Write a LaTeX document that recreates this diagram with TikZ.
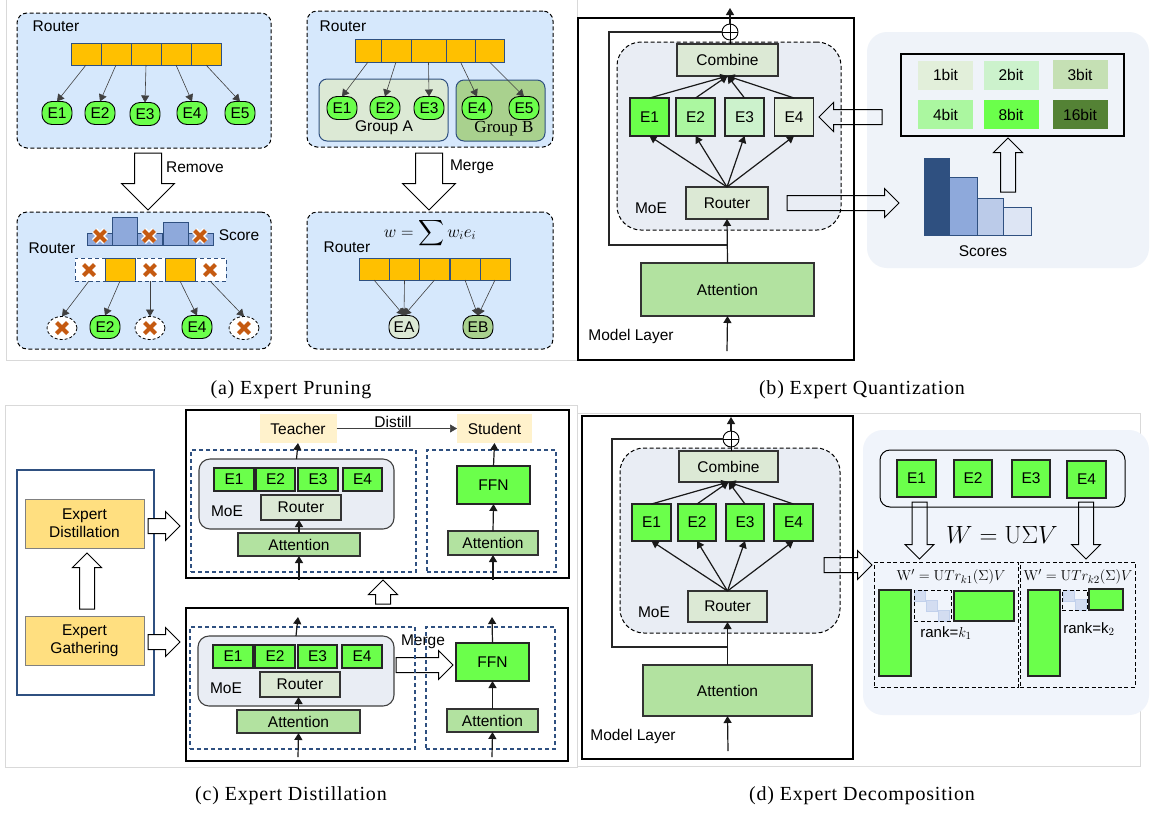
\documentclass[tikz,border=0pt]{standalone}
\usepackage{amsmath, amssymb}
\usepackage[no-math]{fontspec}
\setmainfont{Liberation Sans}
\newfontfamily\capfont[LetterSpace=4]{Liberation Serif}
\newfontfamily\groupfont{Liberation Serif}
\usetikzlibrary{arrows.meta,shapes.arrows,shapes.geometric}
\definecolor{panelblue}{HTML}{D6E8FC}
\definecolor{barblue}{HTML}{2F5080}
\definecolor{barorange}{HTML}{FFC000}
\definecolor{egreen}{HTML}{6BFF4B}
\definecolor{ltgreen}{HTML}{DCE9D5}
\definecolor{midgreen}{HTML}{A9D18E}
\definecolor{attgreen}{HTML}{B2E2A0}
\definecolor{moegray}{HTML}{E9EDF4}
\definecolor{softblue}{HTML}{EFF3F9}
\definecolor{softblueb}{HTML}{F0F4FB}
\definecolor{scorelo}{HTML}{8EA9DB}
\definecolor{crossor}{HTML}{C55A11}
\definecolor{bitone}{HTML}{E2EFDA}
\definecolor{bittwo}{HTML}{CCF2CC}
\definecolor{bitthree}{HTML}{C5E0B4}
\definecolor{bitfour}{HTML}{ABF7A0}
\definecolor{bitsixteen}{HTML}{548235}
\definecolor{diagfill}{HTML}{D3DDF1}
\definecolor{diagline}{HTML}{C2D1EC}
\newcommand{\xmark}[1]{%
	\draw[xhalo] (#1) ++(-5.5,-5.5) -- ++(11,11) (#1) ++(-5.5,5.5) -- ++(11,-11);
	\draw[xcross] (#1) ++(-5.5,-5.5) -- ++(11,11) (#1) ++(-5.5,5.5) -- ++(11,-11);}
\begin{document}
\begin{tikzpicture}[x=1pt,y=-1pt]
	\tikzstyle{every node}=[inner sep=0pt,outer sep=0pt,font=\fontsize{15.5}{18}\selectfont,align=center]
	\tikzstyle{frame}=[draw=black!15,line width=.8pt]
	\tikzstyle{panel}=[draw=black,fill=panelblue,dash pattern=on 4pt off 2.5pt,line width=1pt,rounded corners=10pt]
	\tikzstyle{bar}=[draw=barblue,fill=barorange,line width=.9pt,minimum height=22pt,minimum width=30pt]
	\tikzstyle{expert}=[draw=black,fill=egreen,line width=.9pt,rounded corners=10pt,minimum width=30pt,minimum height=23pt]
	\tikzstyle{gone}=[draw=black,fill=white,dash pattern=on 3pt off 2pt,line width=.8pt,ellipse,minimum width=30pt,minimum height=23pt]
	\tikzstyle{score}=[draw=barblue,fill=scorelo,line width=.9pt]
	\tikzstyle{xhalo}=[white,line width=6.8pt]
	\tikzstyle{xcross}=[crossor,line width=4.2pt]
	\tikzstyle{thinarrow}=[draw=black!75,line width=.6pt,-{Triangle[length=7pt,width=8pt]}]
	\tikzstyle{stdarrow}=[draw=black!90,line width=1.2pt,-{Triangle[length=7pt,width=8pt]}]
	\tikzstyle{skipline}=[draw=black!85,line width=1.2pt]
	\tikzstyle{fat}=[draw=black,fill=white,line width=1pt,single arrow,inner ysep=7pt,single arrow head extend=7pt,anchor=tip]
	\tikzstyle{fatbig}=[fat,inner ysep=13pt,single arrow head extend=13pt]
	\tikzstyle{layerbox}=[draw=black,line width=1.1pt]
	\tikzstyle{moebig}=[draw=black,fill=moegray,dash pattern=on 4pt off 2.5pt,line width=1pt,rounded corners=24pt]
	\tikzstyle{moesmall}=[draw=black!75,fill=moegray,line width=1.1pt,rounded corners=11pt]
	\tikzstyle{lgbox}=[draw=black!80,fill=ltgreen,line width=1.1pt]
	\tikzstyle{attbox}=[draw=black!80,fill=attgreen,line width=1.1pt]
	\tikzstyle{ebox}=[draw=black!85,fill=egreen,line width=1.1pt]
	\tikzstyle{sumnode}=[circle,draw=black,fill=white,line width=.9pt,minimum size=16pt,path picture={\draw[line width=.9pt] (path picture bounding box.north) -- (path picture bounding box.south) (path picture bounding box.west) -- (path picture bounding box.east);}]
	\tikzstyle{bluedash}=[draw=barblue,dash pattern=on 4pt off 3pt,line width=1.1pt]
	\tikzstyle{blackdash}=[draw=black,dash pattern=on 4pt off 2.5pt,line width=1pt]
	\tikzstyle{bitcell}=[minimum width=55pt,minimum height=29pt]
	\tikzstyle{diagcell}=[fill=diagfill,draw=diagline,line width=.5pt,minimum size=11pt]
	\tikzstyle{caption}=[font=\capfont\fontsize{20}{22}\selectfont]
	\useasboundingbox (0,0) rectangle (1150,812);
	\fill[white] (0,0) rectangle (1150,812);

	\draw[frame] (6,0) -- (6,360) -- (577,360) -- (577,0);
	\draw[frame] (5,405) rectangle (577,767);
	\draw[frame] (577,413) rectangle (1140,766);

	\node[panel,minimum width=254pt,minimum height=135pt](aBoxOne) at (144,80.5) {};
	\node (aRouterOne) at (56,26) {Router};
	\node[bar](aC1) at (86,54) {};
	\node[bar](aC2) at (116,54) {};
	\node[bar](aC3) at (146,54) {};
	\node[bar](aC4) at (176,54) {};
	\node[bar](aC5) at (206,54) {};
	\node[expert](aE1) at (57,113) {E1};
	\node[expert](aE2) at (100,113) {E2};
	\node[expert](aE3) at (145,114) {E3};
	\node[expert](aE4) at (192,113) {E4};
	\node[expert](aE5) at (240,113) {E5};
	\draw[thinarrow] (aC1.south) -- (aE1.north);
	\draw[thinarrow] (aC2.south) -- (aE2.north);
	\draw[thinarrow] (aC3.south) -- (aE3.north);
	\draw[thinarrow] (aC4.south) -- (aE4.north);
	\draw[thinarrow] (aC5.south) -- (aE5.north);

	\node[panel,minimum width=254pt,minimum height=137pt](aBoxTwo) at (144,280.5) {};
	\node[fatbig,rotate=-90,minimum height=57pt](aRemove) at (148,210) {};
	\node (aRemoveText) at (195,167) {Remove};
	\node[score,minimum width=25pt,minimum height=12pt](aS1) at (99.5,239) {};
	\node[score,minimum width=25pt,minimum height=28pt](aS2) at (124.5,231) {};
	\node[score,minimum width=25pt,minimum height=12pt](aS3) at (150,239) {};
	\node[score,minimum width=25pt,minimum height=23pt](aS4) at (175.5,233.5) {};
	\node[score,minimum width=25pt,minimum height=12pt](aS5) at (200.5,239) {};
	\xmark{100,236}
	\xmark{149,236}
	\xmark{200,236}
	\node (aScoreText) at (239,235) {Score};
	\node (aRouterTwo) at (52,248) {Router};
	\node[draw=barblue,fill=white,dash pattern=on 4pt off 3pt,line width=.9pt,minimum width=151pt,minimum height=23pt](aRow) at (150.5,269.5) {};
	\node[bar,minimum height=23pt](aK2) at (120,269.5) {};
	\node[bar,minimum height=23pt](aK4) at (180,269.5) {};
	\coordinate (aK1) at (89,281);
	\coordinate (aK3) at (150,281);
	\coordinate (aK5) at (210,281);
	\xmark{89,270}
	\xmark{150,270}
	\xmark{210,270}
	\node[gone](aG1) at (62,328) {};
	\node[expert](aG2) at (105,327) {E2};
	\node[gone](aG3) at (150,328) {};
	\node[expert](aG4) at (197,327) {E4};
	\node[gone](aG5) at (244,328) {};
	\xmark{62,328}
	\xmark{150,328}
	\xmark{244,328}
	\draw[thinarrow] (aK1) -- (aG1.north);
	\draw[thinarrow] (aK2.south) -- (aG2.north);
	\draw[thinarrow] (aK3) -- (aG3.north);
	\draw[thinarrow] (aK4.south) -- (aG4.north);
	\draw[thinarrow] (aK5) -- (aG5.north);

	\node[panel,minimum width=246pt,minimum height=136pt](mBoxOne) at (430,79) {};
	\node (mRouterOne) at (343,26) {Router};
	\node[draw=barblue,fill=ltgreen,line width=1pt,rounded corners=8pt,minimum width=129pt,minimum height=62pt](mGroupA) at (383.5,110) {};
	\node[draw=barblue,fill=midgreen,line width=1pt,rounded corners=8pt,minimum width=89pt,minimum height=61pt](mGroupB) at (500.5,110.5) {};
	\node (mGroupAText) at (384,128) {Group A};
	\node[font=\groupfont\fontsize{17}{20}\selectfont] (mGroupBText) at (504,129) {Group B};
	\node[bar,minimum width=26pt,minimum height=23pt](mC1) at (368,50.5) {};
	\node[bar,minimum width=30pt,minimum height=23pt](mC2) at (396,50.5) {};
	\node[bar,minimum width=35pt,minimum height=23pt](mC3) at (428.5,50.5) {};
	\node[bar,minimum width=29pt,minimum height=23pt](mC4) at (460.5,50.5) {};
	\node[bar,minimum width=29pt,minimum height=23pt](mC5) at (489.5,50.5) {};
	\node[expert](mE1) at (342,108) {E1};
	\node[expert](mE2) at (385,108) {E2};
	\node[expert](mE3) at (429,108) {E3};
	\node[expert](mE4) at (477,108) {E4};
	\node[expert](mE5) at (524,108) {E5};
	\draw[thinarrow] (mC1.south) -- (mE1.north);
	\draw[thinarrow] (mC2.south) -- (mE2.north);
	\draw[thinarrow] (mC3.south) -- (mE3.north);
	\draw[thinarrow] (mC4.south) -- (mE4.north);
	\draw[thinarrow] (mC5.south) -- (mE5.north);

	\node[panel,minimum width=246pt,minimum height=137pt](mBoxTwo) at (430,280.5) {};
	\node[fatbig,rotate=-90,minimum height=57pt](mMerge) at (429,210) {};
	\node (mMergeText) at (472,167) {Merge};
	\node[font=\fontsize{18}{20}\selectfont](mEquation) at (430,233) {$w=\displaystyle\sum w_ie_i$};
	\node (mRouterTwo) at (347,247) {Router};
	\node[bar](mD1) at (374,269) {};
	\node[bar](mD2) at (404.5,269) {};
	\node[bar](mD3) at (434.5,269) {};
	\node[bar](mD4) at (465,269) {};
	\node[bar](mD5) at (495,269) {};
	\node[expert,fill=ltgreen](mEA) at (404,327) {EA};
	\node[expert,fill=midgreen](mEB) at (478,327) {EB};
	\draw[thinarrow] (mD1.south) -- (mEA.north);
	\draw[thinarrow] (mD2.south) -- (mEA.north);
	\draw[thinarrow] (mD3.south) -- (mEA.north);
	\draw[thinarrow] (mD4.south) -- (mEB.north);
	\draw[thinarrow] (mD5.south) -- (mEB.north);

	\node[caption](aCaption) at (291,390) {(a) Expert Pruning};

	\node[layerbox,minimum width=276pt,minimum height=342pt](bLayer) at (716,189) {};
	\coordinate (bOut) at (730,8);
	\coordinate (bIn) at (727,351);
	\coordinate (bSplit) at (727,245);
	\coordinate (bCornerA) at (609,245);
	\coordinate (bCornerB) at (609,32);
	\node[moebig,minimum width=224pt,minimum height=188pt](bMoE) at (729,136) {};
	\node[lgbox,minimum width=101pt,minimum height=32pt](bCombine) at (727.5,60) {Combine};
	\node[sumnode](bSum) at (730,32) {};
	\draw[skipline] (bSplit) -- (bCornerA) -- (bCornerB) -- (bSum.west);
	\draw[stdarrow] (bSum.north) -- (bOut);
	\draw[line width=.8pt] (bCombine.north -| bSum) -- (bSum.south);
	\node[ebox,minimum width=39pt,minimum height=38pt](bE1) at (649.5,117) {E1};
	\node[ebox,fill=bitfour,minimum width=39pt,minimum height=38pt](bE2) at (695.5,117) {E2};
	\node[ebox,fill=bittwo,minimum width=39pt,minimum height=38pt](bE3) at (744.5,117) {E3};
	\node[ebox,fill=bitone,minimum width=39pt,minimum height=38pt](bE4) at (794,117) {E4};
	\node[lgbox,minimum width=82pt,minimum height=32pt](bRouter) at (727,203) {Router};
	\node[attbox,minimum width=173pt,minimum height=53pt](bAttention) at (727.5,289.5) {Attention};
	\draw[stdarrow] (bE1.north) -- (bCombine.south);
	\draw[stdarrow] (bE2.north) -- (bCombine.south);
	\draw[stdarrow] (bE3.north) -- (bCombine.south);
	\draw[stdarrow] (bE4.north) -- (bCombine.south);
	\draw[stdarrow] (bRouter.north) -- (bE1.south);
	\draw[stdarrow] (bRouter.north) -- (bE2.south);
	\draw[stdarrow] (bRouter.north) -- (bE3.south);
	\draw[stdarrow] (bRouter.north) -- (bE4.south);
	\draw[stdarrow] (bAttention.north) -- (bRouter.south);
	\draw[stdarrow] (bIn) -- (bAttention.south);
	\node (bMoEText) at (651,208) {MoE};
	\node (bLayerText) at (631,336) {Model Layer};

	\node[fill=softblue,rounded corners=20pt,minimum width=282pt,minimum height=236pt](bSide) at (1008,150) {};
	\node[layerbox,minimum width=223pt,minimum height=82pt](bBits) at (1012.5,95) {};
	\node[bitcell,fill=bitone](bBit1) at (945.5,75) {1bit};
	\node[bitcell,fill=bittwo](bBit2) at (1011,75) {2bit};
	\node[bitcell,fill=bitthree](bBit3) at (1080,74.5) {3bit};
	\node[bitcell,fill=bitfour](bBit4) at (945.5,114.5) {4bit};
	\node[bitcell,fill=egreen](bBit8) at (1011,114.5) {8bit};
	\node[bitcell,fill=bitsixteen](bBit16) at (1080,114.5) {16bit};
	\node[score,fill=barblue,minimum width=25pt,minimum height=77pt](bScore1) at (936.5,196.5) {};
	\node[score,minimum width=28pt,minimum height=58pt](bScore2) at (963,206) {};
	\node[score,fill=scorelo!60,minimum width=26pt,minimum height=37pt](bScore3) at (990,216.5) {};
	\node[score,fill=scorelo!30,minimum width=28pt,minimum height=28pt](bScore4) at (1017,221) {};
	\node (bScoreText) at (983,251) {Scores};
	\node[fat,fill=none,rotate=180,minimum height=63pt](bQuant) at (819,117) {};
	\node[fat,fill=none,minimum height=112pt](bSend) at (899,203) {};
	\node[fat,fill=none,rotate=90,minimum height=54pt](bUp) at (1008,138) {};

	\node[caption](bCaption) at (862,390) {(b) Expert Quantization};

	\node[draw=barblue,fill=white,line width=1.2pt,minimum width=137pt,minimum height=225pt](cStages) at (85.5,582.5) {};
	\node[draw=black!50,fill=barorange!50!white,line width=1pt,minimum width=119pt,minimum height=49pt](cDistill) at (84.5,523.5) {Expert\\Distillation};
	\node[draw=black!50,fill=barorange!50!white,line width=1pt,minimum width=119pt,minimum height=49pt](cGather) at (84.5,640.5) {Expert\\Gathering};
	\node[fat,rotate=90,minimum height=56pt](cUpOne) at (87,553) {};
	\node[fat,minimum height=32pt](cToTop) at (180,526) {};
	\node[fat,minimum height=32pt](cToBottom) at (180,642) {};

	\node[layerbox,minimum width=383pt,minimum height=168pt](cTop) at (377.5,494) {};
	\node[fill=barorange!20!white,minimum width=77pt,minimum height=29pt](cTeacher) at (298,428.5) {Teacher};
	\node[fill=barorange!20!white,minimum width=75pt,minimum height=29pt](cStudent) at (494.5,428.5) {Student};
	\draw[thinarrow] (cTeacher.east) -- (cStudent.west);
	\node (cDistillText) at (393,422) {Distill};
	\node[bluedash,minimum width=225pt,minimum height=122pt](cDashA) at (303.5,511) {};
	\node[bluedash,minimum width=129pt,minimum height=122pt](cDashB) at (491.5,511) {};
	\coordinate (cInA) at (299,580);
	\coordinate (cInB) at (493,580);
	\node[moesmall,minimum width=195pt,minimum height=70pt](cMoE) at (296.5,494) {};
	\node[ebox,minimum width=40pt,minimum height=23pt](cE1) at (234,479.5) {E1};
	\node[ebox,minimum width=39pt,minimum height=23pt](cE2) at (275.5,479.5) {E2};
	\node[ebox,minimum width=40pt,minimum height=23pt](cE3) at (318,479.5) {E3};
	\node[ebox,minimum width=39pt,minimum height=23pt](cE4) at (362.5,479.5) {E4};
	\node[lgbox,minimum width=80pt,minimum height=25pt](cRouter) at (301,507.5) {Router};
	\node (cMoEText) at (227,511) {MoE};
	\node[attbox,minimum width=122pt,minimum height=23pt](cAtt) at (299,544.5) {Attention};
	\node[ebox,minimum width=73pt,minimum height=38pt](cFFN) at (493.5,485) {FFN};
	\node[attbox,minimum width=90pt,minimum height=24pt](cAttB) at (493,543) {Attention};
	\draw[stdarrow] (cMoE.north) -- (cTeacher.south);
	\draw[stdarrow] (cAtt.north) -- (cRouter.south -| cAtt);
	\draw[stdarrow] (cInA) -- (cAtt.south);
	\draw[stdarrow] (cFFN.north) -- (cStudent.south);
	\draw[stdarrow] (cAttB.north) -- (cFFN.south);
	\draw[stdarrow] (cInB) -- (cAttB.south);

	\node[fat,rotate=90,minimum height=24pt](cUpTwo) at (383,580) {};

	\node[layerbox,minimum width=382pt,minimum height=153pt](cBottom) at (377,684.5) {};
	\node[fat,minimum height=57pt](cMergeArrow) at (453,665) {};
	\node (cMergeText) at (423,642) {Merge};
	\node[bluedash,minimum width=225pt,minimum height=122pt](cDashC) at (302.5,688) {};
	\node[bluedash,minimum width=129pt,minimum height=122pt](cDashD) at (490.5,688) {};
	\coordinate (cOutA) at (298,617);
	\coordinate (cOutB) at (492,617);
	\coordinate (cInC) at (298,757);
	\coordinate (cInD) at (492,757);
	\node[moesmall,minimum width=196pt,minimum height=70pt](cMoEB) at (296,671) {};
	\node[ebox,minimum width=40pt,minimum height=23pt](cF1) at (233,656.5) {E1};
	\node[ebox,minimum width=40pt,minimum height=23pt](cF2) at (275,656.5) {E2};
	\node[ebox,minimum width=39pt,minimum height=23pt](cF3) at (317.5,656.5) {E3};
	\node[ebox,minimum width=40pt,minimum height=23pt](cF4) at (362,656.5) {E4};
	\node[lgbox,minimum width=80pt,minimum height=25pt](cRouterB) at (300,684.5) {Router};
	\node (cMoETextB) at (226,688) {MoE};
	\node[attbox,minimum width=123pt,minimum height=23pt](cAttC) at (298.5,721.5) {Attention};
	\node[ebox,minimum width=73pt,minimum height=38pt](cFFNB) at (492.5,662) {FFN};
	\node[attbox,minimum width=91pt,minimum height=23pt](cAttD) at (492.5,720.5) {Attention};
	\draw[stdarrow] (cMoEB.north) -- (cOutA);
	\draw[stdarrow] (cAttC.north) -- (cRouterB.south -| cAttC);
	\draw[stdarrow] (cInC) -- (cAttC.south);
	\draw[stdarrow] (cFFNB.north) -- (cOutB);
	\draw[stdarrow] (cAttD.north) -- (cFFNB.south);
	\draw[stdarrow] (cInD) -- (cAttD.south);

	\node[caption](cCaption) at (291,796) {(c) Expert Distillation};

	\node[layerbox,minimum width=271pt,minimum height=343pt](dLayer) at (717.5,587.5) {};
	\coordinate (dOut) at (731,417);
	\coordinate (dIn) at (728,751);
	\coordinate (dSplit) at (728,647);
	\coordinate (dCornerA) at (612,647);
	\coordinate (dCornerB) at (612,439);
	\node[moebig,minimum width=220pt,minimum height=185pt](dMoE) at (730,540.5) {};
	\node[lgbox,minimum width=99pt,minimum height=31pt](dCombine) at (728.5,466.5) {Combine};
	\node[sumnode](dSum) at (731,439) {};
	\draw[skipline] (dSplit) -- (dCornerA) -- (dCornerB) -- (dSum.west);
	\draw[stdarrow] (dSum.north) -- (dOut);
	\draw[line width=.8pt] (dCombine.north -| dSum) -- (dSum.south);
	\node[ebox,minimum width=39pt,minimum height=37pt](dE1) at (651.5,522.5) {E1};
	\node[ebox,minimum width=38pt,minimum height=37pt](dE2) at (697,522.5) {E2};
	\node[ebox,minimum width=38pt,minimum height=37pt](dE3) at (745,522.5) {E3};
	\node[ebox,minimum width=39pt,minimum height=37pt](dE4) at (793.5,522.5) {E4};
	\node[lgbox,minimum width=79pt,minimum height=31pt](dRouter) at (727.5,606.5) {Router};
	\node[attbox,minimum width=169pt,minimum height=51pt](dAttention) at (727.5,690.5) {Attention};
	\draw[stdarrow] (dE1.north) -- (dCombine.south);
	\draw[stdarrow] (dE2.north) -- (dCombine.south);
	\draw[stdarrow] (dE3.north) -- (dCombine.south);
	\draw[stdarrow] (dE4.north) -- (dCombine.south);
	\draw[stdarrow] (dRouter.north) -- (dE1.south);
	\draw[stdarrow] (dRouter.north) -- (dE2.south);
	\draw[stdarrow] (dRouter.north) -- (dE3.south);
	\draw[stdarrow] (dRouter.north) -- (dE4.south);
	\draw[stdarrow] (dAttention.north) -- (dRouter.south);
	\draw[stdarrow] (dIn) -- (dAttention.south);
	\node (dMoEText) at (654,612) {MoE};
	\node (dLayerText) at (633,736) {Model Layer};

	\node[fill=softblueb,rounded corners=20pt,minimum width=286pt,minimum height=285pt](dSide) at (1006,572.5) {};
	\node[draw=black,line width=1pt,rounded corners=10pt,minimum width=245pt,minimum height=57pt](dRow) at (1002.5,478.5) {};
	\node[ebox,minimum width=39pt,minimum height=37pt](dF1) at (916.5,478.5) {E1};
	\node[ebox,minimum width=38pt,minimum height=37pt](dF2) at (973,478.5) {E2};
	\node[ebox,minimum width=38pt,minimum height=37pt](dF3) at (1031,478.5) {E3};
	\node[ebox,minimum width=39pt,minimum height=37pt](dF4) at (1086.5,479.5) {E4};
	\node[fat,fill=none,rotate=-90,minimum height=57pt](dDownA) at (919.5,559) {};
	\node[fat,fill=none,rotate=-90,minimum height=57pt](dDownB) at (1086,559) {};
	\node[font=\fontsize{24}{26}\selectfont](dEquation) at (1002,535) {$W=\mathrm{U}\Sigma V$};
	\node[blackdash,minimum width=144pt,minimum height=125pt](dSvdA) at (946,624.5) {};
	\node[blackdash,minimum width=115pt,minimum height=125pt](dSvdB) at (1077.5,624.5) {};
	\node[font=\fontsize{15}{17}\selectfont](dFormA) at (951,577) {$\mathrm{W}'=\mathrm{U}Tr_{k1}(\Sigma)V$};
	\node[font=\fontsize{15}{17}\selectfont](dFormB) at (1078,577) {$\mathrm{W}'=\mathrm{U}Tr_{k2}(\Sigma)V$};
	\node[ebox,minimum width=32pt,minimum height=86pt](dUA) at (895,633) {};
	\node[diagcell](dDA1) at (920,596) {};
	\node[diagcell](dDA2) at (932,606) {};
	\node[diagcell](dDA3) at (944,616) {};
	\node[blackdash,minimum width=37pt,minimum height=31pt](dSigmaA) at (932.5,605.5) {};
	\node[ebox,minimum width=60pt,minimum height=30pt](dVA) at (984,606) {};
	\node[font=\fontsize{15}{17}\selectfont](dRankA) at (946,633) {rank=$k_1$};
	\node[ebox,minimum width=32pt,minimum height=86pt](dUB) at (1044,633) {};
	\node[diagcell](dDB1) at (1068.5,596) {};
	\node[diagcell](dDB2) at (1080.5,605) {};
	\node[blackdash,minimum width=25pt,minimum height=20pt](dSigmaB) at (1074.5,600) {};
	\node[ebox,minimum width=34pt,minimum height=21pt](dVB) at (1106,599.5) {};
	\node[font=\fontsize{15}{17}\selectfont](dRankB) at (1089,629) {rank=k$_2$};

	\node[fat,fill=none,minimum height=48pt](dSend) at (872,565) {};

	\node[caption](dCaption) at (862,796) {(d) Expert Decomposition};
\end{tikzpicture}
\end{document}
